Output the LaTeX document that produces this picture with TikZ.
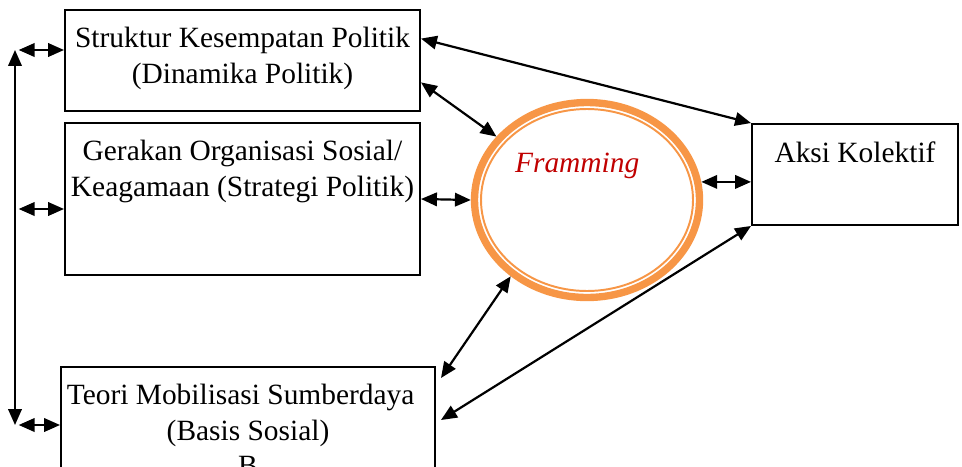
\documentclass[tikz,border=0pt]{standalone}
\usepackage{fontspec}
\setmainfont{Liberation Serif}
\usepackage{xcolor}
\usetikzlibrary{shapes.geometric}
\usetikzlibrary{arrows.meta}
\definecolor{ringorange}{HTML}{F79646}
\definecolor{ringred}{HTML}{C00000}
\newcommand{\pxu}{0.408pt}

\begin{document}
\begin{tikzpicture}[
    x=\pxu, y=-\pxu,
    >={Triangle[length=6.5pt,width=5.5pt]},
    every node/.style={font=\fontsize{12}{14.5}\selectfont},
    box/.style={draw, line width=0.8pt, rectangle, inner sep=0pt},
    boxtext/.style={anchor=north, align=center, yshift=-4pt},
    ring/.style={draw=ringorange, line width=3pt, ellipse, inner sep=0pt},
    link/.style={<->, line width=0.9pt},
  ]
  \useasboundingbox (0,0) rectangle (962,466);

  \node[box, minimum width=355*\pxu, minimum height=101*\pxu,
    label={[boxtext]north:Struktur Kesempatan Politik\\(Dinamika Politik)}] (s1) at (242.5,60.5) {};
  \node[box, minimum width=355*\pxu, minimum height=152*\pxu,
    label={[boxtext]north:Gerakan Organisasi Sosial/\\Keagamaan (Strategi Politik)}] (s2) at (242.5,199) {};
  \node[box, anchor=north, minimum width=374*\pxu, minimum height=160*\pxu,
    label={[boxtext]north:Teori Mobilisasi Sumberdaya\hspace*{6pt}\\(Basis Sosial)\\B}] (s3) at (248,366) {};
  \node[box, minimum width=206*\pxu, minimum height=101*\pxu,
    label={[boxtext]north:Aksi Kolektif}] (aksi) at (855,174.5) {};

  \node[ring, minimum width=225*\pxu, minimum height=195*\pxu,
    label={[anchor=base, xshift=-4pt, yshift=14pt, text=ringred,
      font=\fontsize{12}{14.5}\selectfont\itshape]center:Framming}] (frame) at (587,200) {};
  \draw[ringorange, line width=0.8pt] (frame.center) ellipse [x radius=106, y radius=91];

  % connectors
  \draw[link] (s1.7) -- (aksi.north west);
  \draw[link] (s1.-7) -- (frame.145);
  \draw[link] (s2.east) -- (frame.west);
  \draw[link] ([shift={(5,12)}]s3.north east) -- (frame.-135);
  \draw[link] ([shift={(5,54)}]s3.north east) -- (aksi.south west);
  \draw[link] (frame.9) -- (frame.9 -| aksi.west);

  % left bus
  \coordinate (bt) at (15,50);
  \coordinate (bm) at (15,209);
  \coordinate (bb) at (15,425);
  \draw[link] (bt) -- (bb);
  \foreach \c/\b in {bt/s1, bm/s2, bb/s3}
    \draw[link] ([xshift=1.5pt]\c) -- (\c -| \b.west);

\end{tikzpicture}
\end{document}
